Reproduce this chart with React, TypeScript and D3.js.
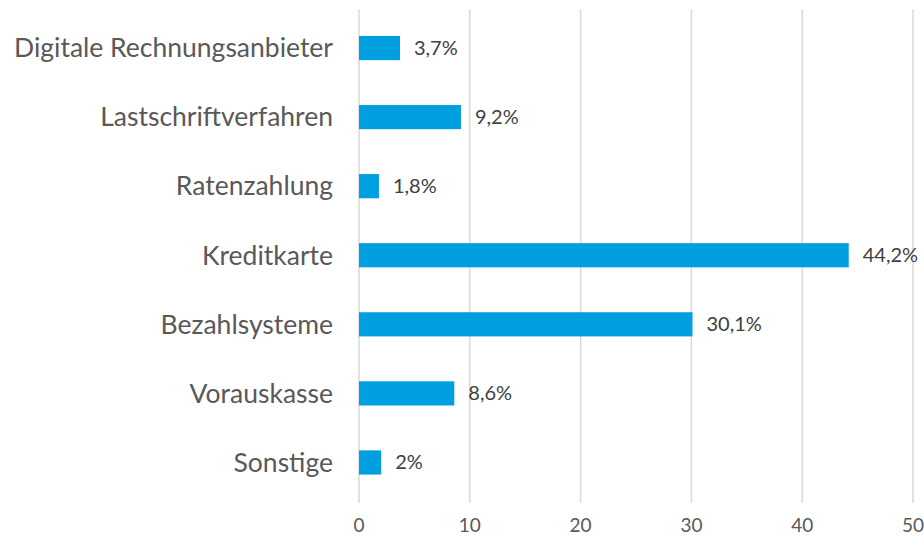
import React from "react";
import * as d3 from "d3";

const categories = [
  "Digitale Rechnungsanbieter",
  "Lastschriftverfahren",
  "Ratenzahlung",
  "Kreditkarte",
  "Bezahlsysteme",
  "Vorauskasse",
  "Sonstige",
];
const values = [3.7, 9.2, 1.8, 44.2, 30.1, 8.6, 2];
const valueLabels = ["3,7%", "9,2%", "1,8%", "44,2%", "30,1%", "8,6%", "2%"];
const ticks = [0, 10, 20, 30, 40, 50];

const W = 924;
const H = 536;
const left = 359;
const right = 913;
const top = 13.5;
const bottom = 497;

export default function App() {
  const x = d3.scaleLinear().domain([0, 50]).range([left, right]);
  const y = d3.scaleBand().domain(categories).range([top, bottom]).paddingInner(0.65).paddingOuter(0.325);
  const font = "Lato, 'Open Sans', sans-serif";
  return (
    <svg width={W} height={H} style={{ position: "absolute", left: 0, top: 0, background: "#fff" }}>
      {ticks.map((t) => (
        <line key={t} x1={x(t)} x2={x(t)} y1={top - 4} y2={bottom + 6} stroke="#d9d9d9" strokeWidth={1.5} />
      ))}
      {ticks.map((t) => (
        <text key={"t" + t} x={x(t)} y={532} textAnchor="middle" fontFamily={font} fontSize={19} fill="#595959">
          {t}
        </text>
      ))}
      {categories.map((c, i) => {
        const yy = y(c)!;
        const bw = y.bandwidth();
        return (
          <g key={c}>
            <rect x={x(0)} y={yy} width={x(values[i]) - x(0)} height={bw} fill="#009fdf" />
            <text x={333} y={yy + bw / 2} dy="0.35em" textAnchor="end" fontFamily={font} fontSize={26.5} fill="#595959">
              {c}
            </text>
            <text x={x(values[i]) + 14} y={yy + bw / 2} dy="0.35em" fontFamily={font} fontSize={20} fill="#404040">
              {valueLabels[i]}
            </text>
          </g>
        );
      })}
    </svg>
  );
}
